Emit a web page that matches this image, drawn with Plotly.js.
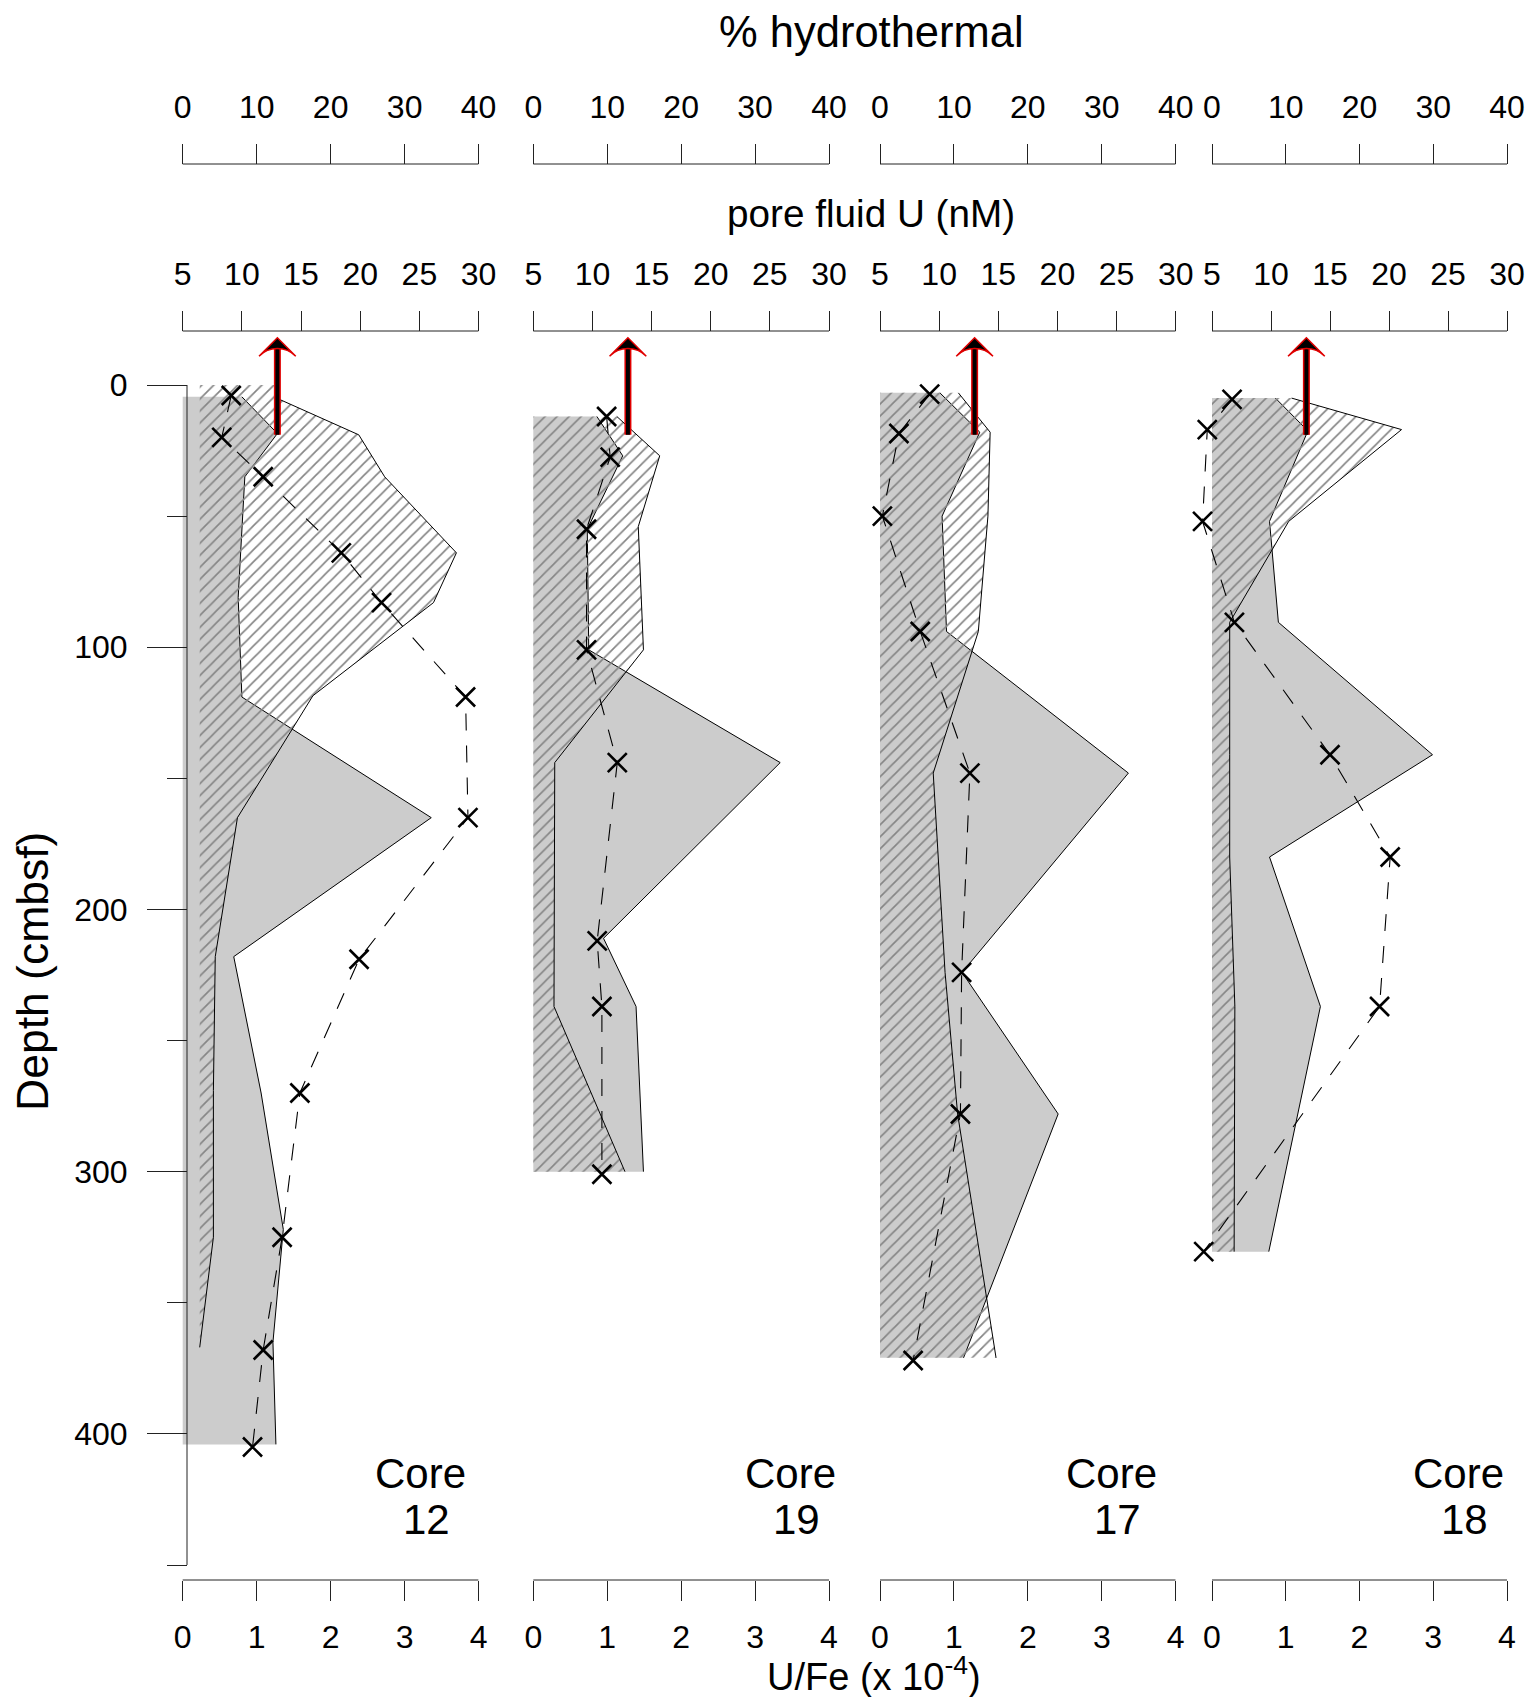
<!DOCTYPE html>
<html>
<head>
<meta charset="utf-8">
<script src="https://cdn.plot.ly/plotly-3.0.1.min.js"></script>
<style>
html,body{margin:0;padding:0;background:#ffffff;}
#chart{width:1530px;height:1697px;}
</style>
</head>
<body>
<div id="chart"></div>
<script>
// ================= DATA =================
const cores = ['12', '19', '17', '18'];

// U/Fe (x 10^-4) profiles : depth (cmbsf) and value
const ufeDepth12 = [4.5, 18.5, 35, 81, 119, 165, 218, 270, 322, 365, 404];
const ufe12      = [0.80, 1.28, 0.84, 0.75, 0.80, 3.36, 0.69, 1.06, 1.36, 1.22, 1.26];
const ufeDepth19 = [12, 27, 55, 101, 144, 211, 237, 300];
const ufe19      = [0.86, 1.21, 0.73, 0.75, 3.34, 0.95, 1.39, 1.49];
const ufeDepth17 = [3, 18, 50, 94, 148, 224, 278, 371];
const ufe17      = [0.81, 1.35, 0.84, 0.90, 3.36, 1.11, 2.41, 1.13];
const ufeDepth18 = [5, 17.5, 52, 90.5, 141, 180, 237, 330.5];
const ufe18      = [0.86, 1.30, 0.78, 0.90, 2.99, 0.78, 1.47, 0.77];

// % hydrothermal profiles
const hydroDepth12 = [0, 5, 19, 35, 64, 83, 118.5, 165, 218, 269, 325, 367];
const hydro12      = [12.7, 12.7, 23.8, 27.3, 37.0, 33.9, 17.6, 7.4, 4.4, 4.15, 4.15, 2.3];
const hydroDepth19 = [12, 27, 54, 101, 144, 211, 237, 300];
const hydro19      = [11.3, 17.1, 14.2, 14.9, 2.9, 2.8, 2.8, 12.4];
const hydroDepth17 = [3, 18, 50, 94, 148, 224, 278, 371];
const hydro17      = [10.6, 14.9, 14.6, 13.3, 7.2, 8.8, 10.5, 15.7];
const hydroDepth18 = [5, 17, 52, 90.5, 141, 180, 237, 330.5];
const hydro18      = [10.8, 25.7, 10.4, 2.4, 2.4, 2.4, 3.1, 3.0];
const hydroBase    = [2.3, 0, 0, 0];   // left edge of the hatched area (%)

// pore fluid U (nM)
const pwDepth12 = [4, 20, 35, 64, 83, 119, 165, 219, 270, 325, 368, 405];
const pw12      = [9.1, 8.3, 11.8, 18.4, 21.8, 28.9, 29.1, 19.9, 14.9, 13.4, 11.8, 10.9];
const pwDepth19 = [12, 27.5, 55, 101, 144, 212, 237, 301];
const pw19      = [11.2, 11.5, 9.5, 9.5, 12.1, 10.4, 10.8, 10.8];
const pwDepth17 = [3.5, 18.5, 50, 94, 148, 224, 278, 372];
const pw17      = [9.2, 6.6, 5.2, 8.4, 12.6, 11.9, 11.8, 7.8];
const pwDepth18 = [5.5, 17, 52, 90.5, 141, 180, 237, 330.5];
const pw18      = [6.7, 4.6, 4.2, 6.9, 15.0, 20.1, 19.2, 4.3];

// seawater U marker (arrow), nM, from depth -> to depth
const seawaterU   = 13;
const arrowDepths = [19, -18];

// tick labels
const ufeTicks   = [0, 1, 2, 3, 4];
const hydroTicks = [0, 10, 20, 30, 40];
const poreTicks  = [5, 10, 15, 20, 25, 30];
const depthTicks = [0, 100, 200, 300, 400];
const depthMinor = [50, 150, 250, 350, 450];

const ufeData   = [[ufeDepth12, ufe12], [ufeDepth19, ufe19], [ufeDepth17, ufe17], [ufeDepth18, ufe18]];
const hydroData = [[hydroDepth12, hydro12], [hydroDepth19, hydro19], [hydroDepth17, hydro17], [hydroDepth18, hydro18]];
const pwData    = [[pwDepth12, pw12], [pwDepth19, pw19], [pwDepth17, pw17], [pwDepth18, pw18]];

// ================= GEOMETRY / STYLE =================
const W = 1530, H = 1697;
const FONT = 'Liberation Sans, Arial, Helvetica, sans-serif';
const panelPx = [[182.7, 478.6], [533.3, 829.0], [880.0, 1175.7], [1212.0, 1507.0]];
const EXT = 22;                         // extra room left of each panel
const depthTopPx = 330, depth0Px = 385, depth450Px = 1565;
const pxPerDepth = (depth450Px - depth0Px) / 450;
const yRange = [450, -(depth0Px - depthTopPx) / pxPerDepth];
const yDomain = [1 - depth450Px / H, 1 - depthTopPx / H];
const yAxisPx = 187;
const axisPosPx = {ufe: 1580, hydro: 164, pore: 331};
const LINEC = '#222222';
const GREY = '#cccccc';
const tickFont = {family: FONT, size: 32, color: '#000'};

const axId  = n => (n === 1 ? 'x' : 'x' + n);
const axKey = n => (n === 1 ? 'xaxis' : 'xaxis' + n);

const layout = {
  width: W, height: H,
  margin: {l: 0, r: 0, t: 0, b: 0},
  paper_bgcolor: '#ffffff', plot_bgcolor: 'rgba(0,0,0,0)',
  showlegend: false,
  font: {family: FONT, color: '#000'},
  yaxis: {
    range: yRange, domain: yDomain, anchor: 'free', position: yAxisPx / W,
    showgrid: false, zeroline: false, showline: false,
    tickmode: 'array', tickvals: depthTicks,
    ticks: 'outside', ticklen: 40, tickwidth: 1, tickcolor: LINEC,
    tickfont: tickFont, ticklabelstandoff: 13,
    minor: {tickmode: 'array', tickvals: depthMinor, ticks: 'outside', ticklen: 20, tickwidth: 1, tickcolor: LINEC, showgrid: false},
    fixedrange: true
  },
  shapes: [],
  annotations: []
};

// y axis line from 0 to 450
layout.shapes.push({type: 'line', xref: 'paper', yref: 'y', x0: yAxisPx / W, x1: yAxisPx / W, y0: 0, y1: 450,
  line: {color: LINEC, width: 1}});

const common = {showgrid: false, zeroline: false, showline: false, ticks: 'outside', ticklen: 20,
  tickwidth: 1, tickcolor: LINEC, tickfont: tickFont, tickmode: 'array', fixedrange: true};

panelPx.forEach((p, i) => {
  const x0 = p[0], x1 = p[1];
  const pxPerU = (x1 - x0) / 4;
  const pxPerNM = (x1 - x0) / 25;
  const base = 3 * i + 1;
  layout[axKey(base)] = Object.assign({}, common, {
    domain: [(x0 - EXT) / W, x1 / W], range: [-EXT / pxPerU, 4],
    anchor: 'free', position: 1 - axisPosPx.ufe / H, side: 'bottom', tickvals: ufeTicks,
    ticklabelstandoff: 9});
  layout[axKey(base + 1)] = Object.assign({}, common, {
    overlaying: axId(base), range: [-EXT / pxPerU * 10, 40],
    anchor: 'free', position: 1 - axisPosPx.hydro / H, side: 'top', tickvals: hydroTicks,
    ticklabelstandoff: 13});
  layout[axKey(base + 2)] = Object.assign({}, common, {
    overlaying: axId(base), range: [5 - EXT / pxPerNM, 30],
    anchor: 'free', position: 1 - axisPosPx.pore / H, side: 'top', tickvals: poreTicks,
    ticklabelstandoff: 13});

  // axis lines
  [[base, ufeTicks, axisPosPx.ufe], [base + 1, hydroTicks, axisPosPx.hydro], [base + 2, poreTicks, axisPosPx.pore]]
    .forEach(([n, tv, py]) => {
      layout.shapes.push({type: 'line', xref: axId(n), yref: 'paper',
        x0: tv[0], x1: tv[tv.length - 1], y0: 1 - py / H, y1: 1 - py / H,
        line: {color: LINEC, width: 1}});
    });

  // Core labels
  const corePos = [3.21, 3.48, 3.13, 3.34][i];
  layout.annotations.push({xref: axId(base), yref: 'y', x: corePos, y: 415, text: 'Core',
    showarrow: false, xanchor: 'center', yanchor: 'middle', font: {family: FONT, size: 42, color: '#000'}});
  layout.annotations.push({xref: axId(base), yref: 'y', x: corePos, y: 432.5, xshift: 6, text: cores[i],
    showarrow: false, xanchor: 'center', yanchor: 'middle', font: {family: FONT, size: 42, color: '#000'}});
});

// titles
layout.annotations.push({xref: 'paper', yref: 'paper', x: 871 / W, y: 1 - 32 / H, text: '% hydrothermal',
  showarrow: false, xanchor: 'center', yanchor: 'middle', font: {family: FONT, size: 43.5, color: '#000'}});
layout.annotations.push({xref: 'paper', yref: 'paper', x: 871 / W, y: 1 - 213 / H, text: 'pore fluid U (nM)',
  showarrow: false, xanchor: 'center', yanchor: 'middle', font: {family: FONT, size: 38.7, color: '#000'}});
layout.annotations.push({xref: 'paper', yref: 'paper', x: 874 / W, y: 1 - 1674 / H, text: 'U/Fe (x 10<sup>-4</sup>)',
  showarrow: false, xanchor: 'center', yanchor: 'middle', font: {family: FONT, size: 38, color: '#000'}});
layout.annotations.push({xref: 'paper', yref: 'paper', x: 32 / W, y: 1 - 972 / H, text: 'Depth (cmbsf)',
  textangle: -90, showarrow: false, xanchor: 'center', yanchor: 'middle', font: {family: FONT, size: 44.5, color: '#000'}});

// ================= TRACES =================
const traces = [];
ufeData.forEach(([d, v], i) => {
  const xa = axId(3 * i + 1);
  traces.push({type: 'scatter', mode: 'none', x: [0].concat(v, [0]), y: [d[0]].concat(d, [d[d.length - 1]]),
    fill: 'toself', fillcolor: GREY, xaxis: xa, yaxis: 'y', hoverinfo: 'skip'});
  traces.push({type: 'scatter', mode: 'lines', x: v, y: d, line: {color: '#000', width: 1},
    xaxis: xa, yaxis: 'y', hoverinfo: 'skip'});
});
hydroData.forEach(([d, v], i) => {
  const xa = axId(3 * i + 2);
  const b = hydroBase[i];
  traces.push({type: 'scatter', mode: 'none', x: [b].concat(v, [b]), y: [d[0]].concat(d, [d[d.length - 1]]),
    fill: 'toself', fillcolor: 'rgba(0,0,0,0)',
    fillpattern: {shape: '/', fgcolor: '#858585', size: 8.5, solidity: 0.2},
    xaxis: xa, yaxis: 'y', hoverinfo: 'skip'});
  traces.push({type: 'scatter', mode: 'lines', x: v, y: d, line: {color: '#000', width: 1},
    xaxis: xa, yaxis: 'y', hoverinfo: 'skip'});
});
pwData.forEach(([d, v], i) => {
  const xa = axId(3 * i + 3);
  traces.push({type: 'scatter', mode: 'lines+markers', x: v, y: d,
    line: {color: '#000', width: 1.1, dash: '17px,15px'},
    marker: {symbol: 'x-thin', size: 19, color: '#000', line: {color: '#000', width: 2.6}},
    cliponaxis: false, xaxis: xa, yaxis: 'y', hoverinfo: 'skip'});
  // seawater arrow
  const sx = [seawaterU, seawaterU];
  const shaftY = [arrowDepths[0], arrowDepths[1] + 4];
  traces.push({type: 'scatter', mode: 'lines', x: sx, y: shaftY, line: {color: '#e00000', width: 7},
    xaxis: xa, yaxis: 'y', hoverinfo: 'skip'});
  traces.push({type: 'scatter', mode: 'lines', x: sx, y: shaftY, line: {color: '#000', width: 4},
    xaxis: xa, yaxis: 'y', hoverinfo: 'skip'});
  traces.push({type: 'scatter', mode: 'markers', x: [seawaterU], y: [arrowDepths[1]],
    marker: {symbol: 'arrow-wide', size: 26, angle: 0, color: '#000', line: {color: '#e00000', width: 1.5}},
    cliponaxis: false, xaxis: xa, yaxis: 'y', hoverinfo: 'skip'});
});

Plotly.newPlot('chart', traces, layout, {staticPlot: true, displayModeBar: false});
</script>
</body>
</html>
